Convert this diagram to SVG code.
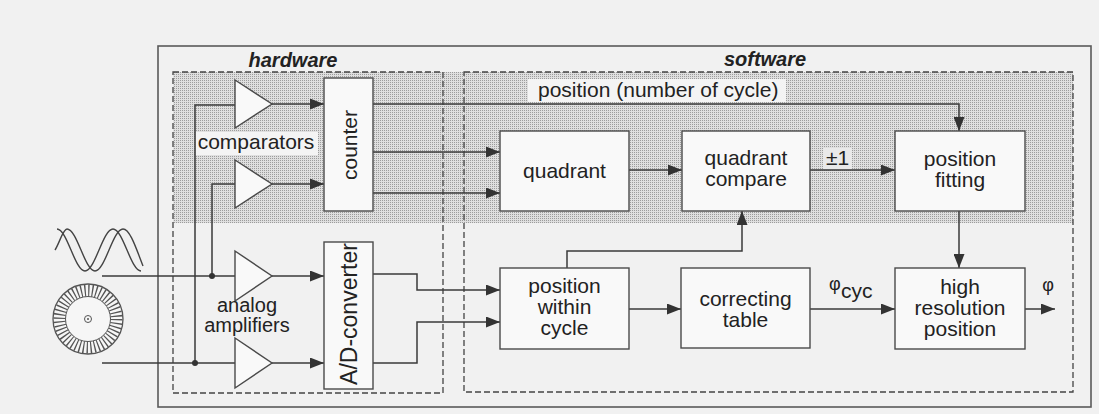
<svg xmlns="http://www.w3.org/2000/svg" width="1099" height="414" viewBox="0 0 1099 414">
  <defs>
    <!-- halftone screen used for the shaded upper band -->
    <pattern id="halftone" width="2" height="2" patternUnits="userSpaceOnUse">
      <rect width="2" height="2" fill="#dfdfdf"/>
      <rect width="1" height="1" fill="#9c9c9c"/>
    </pattern>
    <marker id="arrow" markerUnits="userSpaceOnUse" markerWidth="14" markerHeight="11" refX="14" refY="5.5" orient="auto">
      <path d="M0,0 L14,5.5 L0,11 z" fill="#333"/>
    </marker>
    <style>
      .frame { fill: none; stroke: #5a5a5a; stroke-width: 1.6; }
      .area { fill: none; stroke: #444; stroke-width: 1.3; stroke-dasharray: 6 3; }
      .box { fill: #f9f9f9; stroke: #4a4a4a; stroke-width: 1.4; }
      .amp { fill: #f9f9f9; stroke: #4a4a4a; stroke-width: 1.4; stroke-linejoin: miter; }
      .wire { fill: none; stroke: #3a3a3a; stroke-width: 1.5; }
      .arr { fill: none; stroke: #3a3a3a; stroke-width: 1.5; marker-end: url(#arrow); }
      .dot { fill: #333; }
      text { font-family: "Liberation Sans", Arial, sans-serif; fill: #222; }
      .lbl { font-size: 21px; text-anchor: middle; }
      .hw { font-size: 20px; text-anchor: middle; }
      .title { font-size: 20px; font-weight: bold; font-style: italic; text-anchor: middle; }
      .sym { fill: none; stroke: #444; stroke-width: 1.4; }
    </style>
  </defs>

  <!-- paper -->
  <rect width="1099" height="414" fill="#f1f1f1"/>

  <!-- outer frame -->
  <rect class="frame" x="158" y="46" width="933" height="361"/>

  <!-- shaded band (digital signals) -->
  <rect x="173" y="72" width="900" height="151" fill="url(#halftone)"/>

  <!-- hardware / software areas -->
  <g id="hardware-area">
    <rect class="area" x="173" y="72" width="270" height="321"/>
    <text class="title" x="293" y="67">hardware</text>
  </g>
  <g id="software-area">
    <rect class="area" x="464" y="72" width="609" height="320"/>
    <text class="title" x="765" y="66">software</text>
  </g>

  <!-- light backgrounds behind labels inside the shaded band -->
  <rect x="196" y="132" width="122" height="23" fill="#f4f4f4"/>
  <rect x="528" y="79" width="258" height="23" fill="#f4f4f4"/>
  <rect x="823" y="148" width="29" height="21" fill="#e9e9e9"/>

  <!-- connectors -->
  <g id="connectors">
    <!-- sensor inputs -->
    <path class="wire" d="M102,276 H235"/>
    <path class="wire" d="M102,363 H235"/>
    <path class="wire" d="M212,276 V184 H235"/>
    <path class="wire" d="M195,363 V105 H235"/>
    <circle class="dot" cx="212" cy="276" r="3"/>
    <circle class="dot" cx="195" cy="363" r="3"/>

    <!-- comparators to counter -->
    <path class="arr" d="M272,104 H324"/>
    <path class="arr" d="M272,184 H324"/>
    <!-- amplifiers to A/D converter -->
    <path class="arr" d="M272,276 H324"/>
    <path class="arr" d="M272,363 H324"/>

    <!-- counter outputs -->
    <path class="arr" d="M373,104 H959 V131"/>
    <path class="arr" d="M373,152 H500"/>
    <path class="arr" d="M373,193 H500"/>

    <!-- A/D outputs -->
    <path class="arr" d="M373,274 H417 V290 H500"/>
    <path class="arr" d="M373,363 H417 V322 H500"/>

    <!-- software chain -->
    <path class="arr" d="M629,170 H682"/>
    <path class="arr" d="M810,170 H895"/>
    <path class="arr" d="M567,268 V251 H742 V211"/>
    <path class="arr" d="M629,309 H681"/>
    <path class="arr" d="M810,309 H895"/>
    <path class="arr" d="M959,211 V268"/>
    <path class="arr" d="M1025,309 H1055"/>

    <text x="538" y="97" style="font-size:21px">position (number of cycle)</text>
    <text x="826" y="165" style="font-size:21px">±1</text>
    <text x="829" y="290" style="font-size:18px">φ</text>
    <text x="841" y="298" style="font-size:21px">cyc</text>
    <text x="1048" y="291" style="font-size:18px" text-anchor="middle">φ</text>
  </g>

  <!-- sensor signal: two phase-shifted sine tracks -->
  <g id="signal">
    <path class="sym" d="M57,229 C67.2,229 74.8,271 85,271 C95.2,271 102.8,229 113,229 C123.2,229 130.8,271 141,271"/>
    <path class="sym" d="M55,250 C59.5,243 63,229 67,229 C77.2,229 84.8,271 95,271 C105.2,271 112.8,229 123,229 C130,229 136,248 143,266"/>
  </g>

  <!-- encoder disk -->
  <g id="encoder">
    <circle cx="88" cy="319" r="35" fill="#f6f6f6" stroke="#555" stroke-width="1.3"/>
    <circle cx="88" cy="319" r="28.5" fill="none" stroke="#555" stroke-width="12" stroke-dasharray="1.3 2.43"/>
    <circle cx="88" cy="319" r="22.5" fill="#f6f6f6" stroke="#555" stroke-width="1"/>
    <circle cx="88" cy="319" r="3.5" fill="none" stroke="#555" stroke-width="1"/>
    <circle cx="88" cy="319" r="1" fill="#555"/>
  </g>

  <!-- hardware blocks -->
  <g id="comparators">
    <polygon class="amp" points="235,80 272,104 235,128"/>
    <polygon class="amp" points="235,160 272,184 235,208"/>
    <text class="lbl" x="256" y="149">comparators</text>
  </g>
  <g id="amplifiers">
    <polygon class="amp" points="235,251 272,276 235,301"/>
    <polygon class="amp" points="235,338 272,363 235,388"/>
    <text class="hw" x="247" y="312">analog</text>
    <text class="hw" x="247" y="332">amplifiers</text>
  </g>
  <g id="counter">
    <rect class="box" x="324" y="78" width="49" height="133"/>
    <text class="lbl" transform="translate(356.5,145) rotate(-90)" x="0" y="0">counter</text>
  </g>
  <g id="ad-converter">
    <rect class="box" x="324" y="242" width="49" height="147"/>
    <text transform="translate(357,314) rotate(-90)" x="0" y="0" style="font-size:23px" text-anchor="middle">A/D-converter</text>
  </g>

  <!-- software blocks -->
  <g id="quadrant">
    <rect class="box" x="500" y="131" width="129" height="80"/>
    <text class="lbl" x="564.5" y="178">quadrant</text>
  </g>
  <g id="quadrant-compare">
    <rect class="box" x="682" y="131" width="128" height="80"/>
    <text class="lbl" x="746" y="165">quadrant</text>
    <text class="lbl" x="746" y="186">compare</text>
  </g>
  <g id="position-fitting">
    <rect class="box" x="895" y="131" width="130" height="80"/>
    <text class="lbl" x="960" y="166">position</text>
    <text class="lbl" x="960" y="187">fitting</text>
  </g>
  <g id="position-within-cycle">
    <rect class="box" x="500" y="268" width="129" height="81"/>
    <text class="lbl" x="564.5" y="293">position</text>
    <text class="lbl" x="564.5" y="314">within</text>
    <text class="lbl" x="564.5" y="335">cycle</text>
  </g>
  <g id="correcting-table">
    <rect class="box" x="681" y="268" width="129" height="80"/>
    <text class="lbl" x="745.5" y="306">correcting</text>
    <text class="lbl" x="745.5" y="327">table</text>
  </g>
  <g id="high-resolution-position">
    <rect class="box" x="895" y="268" width="130" height="81"/>
    <text class="lbl" x="960" y="294">high</text>
    <text class="lbl" x="960" y="315">resolution</text>
    <text class="lbl" x="960" y="336">position</text>
  </g>
</svg>
